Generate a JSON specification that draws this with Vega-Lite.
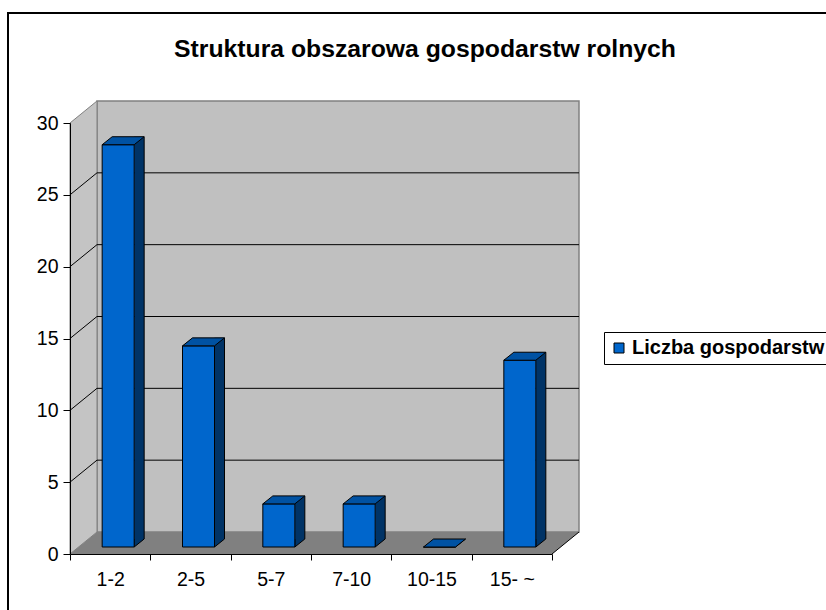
{
  "$schema": "https://vega.github.io/schema/vega-lite/v6.json",
  "width": 818,
  "height": 597,
  "padding": {"left": 8, "top": 13, "right": 0, "bottom": 0},
  "autosize": {"type": "none"},
  "background": "white",
  "config": {
    "view": {"stroke": "black", "strokeWidth": 2, "fill": "white", "strokeDash": [818, 1415, 597]},
    "font": "Liberation Sans"
  },
  "title": {
    "text": "Struktura obszarowa gospodarstw rolnych",
    "anchor": "middle",
    "frame": "group",
    "orient": "top",
    "font": "Liberation Sans",
    "fontSize": 24.75,
    "fontWeight": "bold",
    "color": "black",
    "baseline": "alphabetic",
    "offset": 0,
    "dx": 8,
    "dy": 69
  },
  "data": {
    "values": [
      {"kategoria": "1-2", "liczba": 28, "seria": "Liczba gospodarstw"},
      {"kategoria": "2-5", "liczba": 14, "seria": "Liczba gospodarstw"},
      {"kategoria": "5-7", "liczba": 3, "seria": "Liczba gospodarstw"},
      {"kategoria": "7-10", "liczba": 3, "seria": "Liczba gospodarstw"},
      {"kategoria": "10-15", "liczba": 0, "seria": "Liczba gospodarstw"},
      {"kategoria": "15- ~", "liczba": 13, "seria": "Liczba gospodarstw"}
    ]
  },
  "layer": [
    {
      "data": {"values": [{"d": 1}]},
      "mark": {"type": "point", "shape": "M-13.17,-22L468.83,-22L468.83,-453L-13.17,-453Z", "size": 4, "filled": true, "fill": "#C0C0C0", "stroke": "#808080", "strokeWidth": 1.5, "opacity": 1},
      "encoding": {
        "x": {"datum": "1-2", "type": "nominal"},
        "y": {"datum": 0, "type": "quantitative"}
      }
    },
    {
      "data": {"values": [{"d": 1}]},
      "mark": {"type": "point", "shape": "M-40.17,0L-40.17,-431L-13.17,-453L-13.17,-22Z", "size": 4, "filled": true, "fill": "#C4C4C4", "stroke": "#808080", "strokeWidth": 1, "opacity": 1},
      "encoding": {
        "x": {"datum": "1-2", "type": "nominal"},
        "y": {"datum": 0, "type": "quantitative"}
      }
    },
    {
      "data": {"values": [{"d": 1}]},
      "mark": {"type": "point", "shape": "M-40.17,0L441.83,0L468.83,-22L-13.17,-22Z", "size": 4, "filled": true, "fill": "#808080", "strokeWidth": 0, "opacity": 1},
      "encoding": {
        "x": {"datum": "1-2", "type": "nominal"},
        "y": {"datum": 0, "type": "quantitative"}
      }
    },
    {
      "data": {"values": [{"d": 1}]},
      "mark": {"type": "point", "shape": "M441.83,0L468.83,-22", "size": 4, "filled": false, "color": "black", "strokeWidth": 1, "opacity": 1},
      "encoding": {
        "x": {"datum": "1-2", "type": "nominal"},
        "y": {"datum": 0, "type": "quantitative"}
      }
    },
    {
      "data": {"values": [{"g": 5}, {"g": 10}, {"g": 15}, {"g": 20}, {"g": 25}]},
      "mark": {"type": "point", "shape": "M-40.17,0L-13.17,-22L468.83,-22", "size": 4, "filled": false, "color": "black", "strokeWidth": 1, "opacity": 1},
      "encoding": {
        "x": {"datum": "1-2", "type": "nominal"},
        "y": {"field": "g", "type": "quantitative"}
      }
    },
    {
      "mark": {"type": "bar", "width": 10, "xOffset": 29, "yOffset": -15, "y2Offset": -15, "color": "#003366"},
      "encoding": {
        "x": {"field": "kategoria", "type": "nominal"},
        "y": {"field": "liczba", "type": "quantitative"},
        "y2": {"datum": 0}
      }
    },
    {
      "mark": {"type": "point", "shape": "M24,-15L24,-7L34,-15", "size": 4, "filled": true, "fill": "#003366", "stroke": "black", "strokeWidth": 1, "opacity": 1},
      "encoding": {
        "x": {"field": "kategoria", "type": "nominal"},
        "y": {"datum": 0, "type": "quantitative"}
      }
    },
    {
      "mark": {"type": "bar", "width": 32, "xOffset": 8, "yOffset": -7, "y2Offset": -7, "stroke": "black", "strokeWidth": 1, "opacity": 1},
      "encoding": {
        "x": {
          "field": "kategoria",
          "type": "nominal",
          "scale": {"type": "band", "domain": ["1-2", "2-5", "5-7", "7-10", "10-15", "15- ~"], "range": [62, 544], "paddingInner": 0, "paddingOuter": 0},
          "axis": {"orient": "bottom", "offset": -56, "tickBand": "extent", "labelAngle": 0, "labelAlign": "center", "labelBaseline": "top", "tickSize": 6, "labelPadding": 10, "labelFontSize": 19.5, "labelFont": "Liberation Sans", "labelColor": "black", "domainColor": "black", "tickColor": "black", "title": null, "zindex": 1}
        },
        "y": {
          "field": "liczba",
          "type": "quantitative",
          "scale": {"domain": [0, 30], "range": [541, 110], "nice": false, "zero": true},
          "axis": {"values": [0, 5, 10, 15, 20, 25, 30], "offset": -62, "grid": false, "tickSize": 7, "labelPadding": 5, "labelFontSize": 19.5, "labelFont": "Liberation Sans", "labelColor": "black", "domainColor": "black", "tickColor": "black", "title": null, "zindex": 1}
        },
        "y2": {"datum": 0},
        "color": {
          "field": "seria",
          "type": "nominal",
          "scale": {"range": ["#0066CC"]},
          "legend": {"orient": "none", "legendX": 596, "legendY": 319, "title": null, "symbolType": "square", "symbolSize": 100, "symbolStrokeColor": "black", "symbolStrokeWidth": 1, "labelFontSize": 20, "labelFontWeight": "bold", "labelFont": "Liberation Sans", "labelColor": "black", "labelLimit": 400, "strokeColor": "black", "fillColor": "white", "padding": 6, "symbolOffset": -1, "labelOffset": 3}
        }
      }
    },
    {
      "mark": {"type": "rule", "xOffset": 34, "yOffset": -15, "y2Offset": -15, "color": "black", "strokeWidth": 1},
      "encoding": {
        "x": {"field": "kategoria", "type": "nominal"},
        "y": {"field": "liczba", "type": "quantitative"},
        "y2": {"datum": 0}
      }
    },
    {
      "mark": {"type": "point", "shape": "M-8,-7L24,-7L34,-15L2,-15Z", "size": 4, "filled": true, "fill": "#0052A3", "stroke": "black", "strokeWidth": 1, "opacity": 1},
      "encoding": {
        "x": {"field": "kategoria", "type": "nominal"},
        "y": {"field": "liczba", "type": "quantitative"}
      }
    }
  ]
}
